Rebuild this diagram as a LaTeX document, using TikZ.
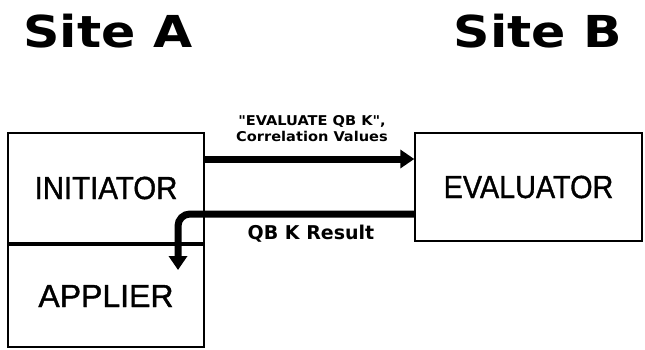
\documentclass[tikz,border=0pt]{standalone}
\usepackage{fontspec}
\setmainfont{Liberation Sans}
\newfontfamily\boxfont[FakeBold=1.2]{Liberation Sans}
\newfontfamily\titlefont{DejaVu Sans}
\usetikzlibrary{arrows.meta}
\tikzset{
  box/.style={draw, line width=1.4pt, inner sep=0pt, font=\boxfont\fontsize{32}{36}\selectfont},
  flow/.style={line width=7pt, -{Triangle[length=14pt,width=18pt]}},
  title/.style={inner sep=0pt, font=\titlefont\bfseries\fontsize{44}{48}\selectfont},
  lbl/.style={inner sep=0pt, align=center, font=\titlefont\bfseries\fontsize{13.5}{15}\selectfont}
}
\begin{document}
\begin{tikzpicture}[x=1pt,y=-1pt]
\useasboundingbox (0,0) rectangle (645,349);
\node[title] (sa) at (108,31) {\scalebox{1.15}[1]{Site A}};
\node[title] (sb) at (538,31) {\scalebox{1.15}[1]{Site B}};
\node[box, minimum width=196pt, minimum height=110pt] (init) at (106,188) {\scalebox{0.92}[1]{INITIATOR}};
\node[box, minimum width=196pt, minimum height=102pt] (appl) at (106,296) {APPLIER};
\node[box, minimum width=227pt, minimum height=108pt] (eval) at (528.5,187) {\scalebox{0.9}[1]{EVALUATOR}};
\coordinate (ret) at (178,270);
\draw[flow] (init.east |- 0,159) -- (eval.west |- 0,159);
\draw[flow, rounded corners=12pt] (eval.west |- 0,214) -| (ret);
\node[lbl] (l1) at (312,129) {\scalebox{1.08}[1]{"EVALUATE QB K",}\\[1pt]\scalebox{1.08}[1]{Correlation Values}};
\node[lbl, font=\titlefont\bfseries\fontsize{19}{21}\selectfont] (l2) at (311,234) {QB K Result};
\end{tikzpicture}
\end{document}
